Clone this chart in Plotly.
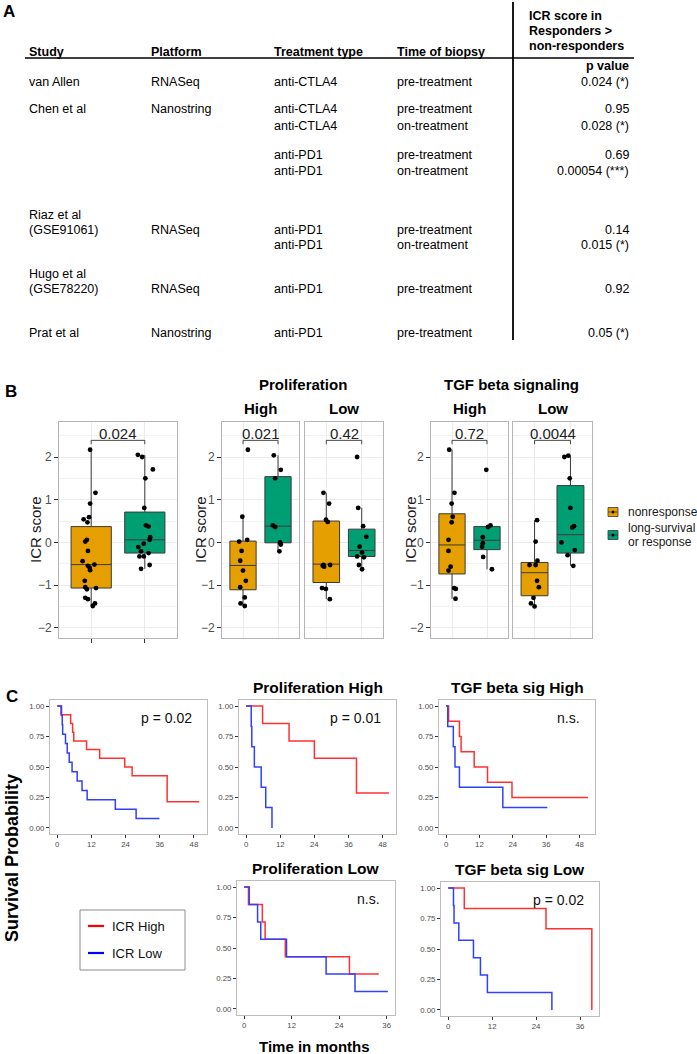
import plotly.graph_objects as go

W, H = 697, 1054
FONT = "Liberation Sans, Arial, Helvetica, sans-serif"

# ---------------- Panel A : table ----------------
table_headers = ["Study", "Platform", "Treatment type", "Time of biopsy"]
right_header = ["ICR score in", "Responders >", "non-responders"]
pvalue_header = "p value"
study_col = ["van Allen", "Chen et al", "", "", "", "Riaz et al", "(GSE91061)", "", "Hugo et al", "(GSE78220)", "Prat et al"]
platform_col = ["RNASeq", "Nanostring", "", "", "", "", "RNASeq", "", "", "RNASeq", "Nanostring"]
treatment_col = ["anti-CTLA4", "anti-CTLA4", "anti-CTLA4", "anti-PD1", "anti-PD1", "", "anti-PD1", "anti-PD1", "", "anti-PD1", "anti-PD1"]
biopsy_col = ["pre-treatment", "pre-treatment", "on-treatment", "pre-treatment", "on-treatment", "", "pre-treatment", "on-treatment", "", "pre-treatment", "pre-treatment"]
pvalue_col = ["0.024 (*)", "0.95", "0.028 (*)", "0.69", "0.00054 (***)", "", "0.14", "0.015 (*)", "", "0.92", "0.05 (*)"]

# ---------------- Panel B : ICR score boxplots ----------------
group_names = ["nonresponse", "long-survival<br>or response"]
group_colors = ["#E69F00", "#009E73"]
compare_p = ["0.024", "0.021", "0.42", "0.72", "0.0044"]
facet_labels = ["", "High", "Low", "High", "Low"]
facet_groups = ["Proliferation", "TGF beta signaling"]

# box stats: [lower whisker, q1, median, q3, upper whisker]
all_non_box = [-1.49, -1.07, -0.52, 0.37, 2.17]
all_non_vals = [2.17, 1.16, 0.91, 0.59, 0.54, 0.47, 0.06, 0.02, -0.2, -0.44, -0.52, -0.55, -0.59, -0.65, -0.9, -1.05, -1.07, -1.1, -1.3, -1.33, -1.43, -1.49]
all_non_jit = [-0.02, 0.08, -0.02, -0.04, -0.14, -0.07, -0.08, -0.11, -0.06, -0.16, 0.06, -0.06, -0.03, -0.02, -0.12, -0.11, 0.09, -0.08, -0.11, -0.06, 0.07, 0.03]
all_res_box = [-0.62, -0.25, 0.06, 0.71, 2.05]
all_res_vals = [2.05, 2.0, 1.71, 1.5, 0.81, 0.4, 0.37, 0.12, 0.06, -0.03, -0.11, -0.21, -0.25, -0.33, -0.33, -0.53, -0.62]
all_res_jit = [-0.13, -0.05, 0.15, 0.01, -0.01, 0.02, 0.07, 0.1, 0.09, -0.02, -0.12, -0.07, 0.07, -0.1, -0.02, 0.09, -0.07]

ph_non_box = [-1.49, -1.11, -0.54, 0.03, 0.6]
ph_non_vals = [2.17, 0.6, 0.02, 0.06, -0.2, -0.43, -0.66, -0.9, -1.05, -1.29, -1.43, -1.49]
ph_non_jit = [0.14, -0.02, -0.11, 0.12, -0.04, -0.08, 0.0, 0.08, -0.08, 0.05, -0.07, 0.05]
ph_res_box = [-0.21, -0.01, 0.38, 1.54, 2.04]
ph_res_vals = [2.04, 1.7, 1.5, 0.4, 0.36, 0.0, -0.05, -0.21]
ph_res_jit = [-0.12, 0.08, -0.08, -0.15, -0.08, 0.06, 0.08, 0.04]

pl_non_box = [-1.33, -0.94, -0.51, 0.5, 1.16]
pl_non_vals = [1.16, 0.91, 0.53, 0.48, -0.53, -0.57, -0.53, -0.55, -1.07, -1.09, -1.33]
pl_non_jit = [-0.08, 0.08, -0.01, 0.04, -0.08, -0.06, 0.11, -0.1, -0.12, -0.01, 0.1]
pl_res_box = [-0.63, -0.33, -0.19, 0.31, 0.81]
pl_res_vals = [2.0, 0.81, 0.38, 0.13, -0.1, -0.24, -0.33, -0.35, -0.53, -0.63]
pl_res_jit = [-0.13, -0.1, 0.04, 0.13, -0.06, 0.01, -0.13, 0.06, -0.08, 0.01]

th_non_box = [-1.32, -0.74, -0.06, 0.67, 2.17]
th_non_vals = [2.17, 1.16, 0.91, 0.6, 0.47, 0.06, -0.2, -0.57, -0.66, -1.07, -1.09, -1.32]
th_non_jit = [-0.08, 0.07, -0.01, 0.02, -0.01, -0.1, -0.1, -0.04, -0.1, 0.06, 0.11, 0.1]
th_res_box = [-0.63, -0.17, 0.05, 0.37, 0.4]
th_res_vals = [1.7, 0.4, 0.36, 0.12, -0.02, -0.1, -0.34, -0.63]
th_res_jit = [-0.02, 0.1, 0.03, -0.12, -0.12, -0.14, -0.11, 0.14]

tl_non_box = [-1.5, -1.25, -0.71, -0.47, 0.52]
tl_non_vals = [0.52, 0.02, -0.43, -0.53, -0.53, -0.9, -1.05, -1.3, -1.43, -1.5]
tl_non_jit = [0.07, 0.03, 0.08, -0.14, 0.03, 0.07, 0.12, -0.03, -0.1, 0.0]
tl_res_box = [-0.55, -0.25, 0.18, 1.33, 2.03]
tl_res_vals = [2.03, 2.0, 1.5, 0.81, 0.38, 0.35, 0.0, -0.18, -0.3, -0.55]
tl_res_jit = [-0.06, -0.17, -0.02, 0.0, 0.1, 0.05, -0.25, 0.12, -0.08, 0.08]

# ---------------- Panel C : Kaplan-Meier ----------------
km_titles = ["", "Proliferation High", "TGF beta sig High", "Proliferation Low", "TGF beta sig Low"]
km_pvals = ["p = 0.02", "p = 0.01", "n.s.", "n.s.", "p = 0.02"]
km_legend = ["ICR High", "ICR Low"]
km_colors = ["#FF3030", "#3040FF"]
km_legend_colors = ["#FF0000", "#0000FF"]

all_high_t = [0, 1.3, 4.7, 5.4, 5.8, 10.3, 14.9, 23.7, 26.3, 38.6, 49.9]
all_high_s = [1, 0.929, 0.857, 0.786, 0.714, 0.643, 0.571, 0.5, 0.429, 0.214, 0.214]
all_low_t = [0, 1.5, 1.75, 1.9, 2.9, 3.5, 4.2, 5.2, 7.0, 8.7, 10.5, 20.4, 27.7, 35.9]
all_low_s = [1, 0.923, 0.846, 0.769, 0.692, 0.615, 0.538, 0.462, 0.385, 0.308, 0.231, 0.154, 0.077, 0.077]

ph_high_t = [0, 5.8, 15.1, 24.0, 38.8, 50.2]
ph_high_s = [1, 0.857, 0.714, 0.571, 0.286, 0.286]
ph_low_t = [0, 1.8, 2.0, 2.9, 5.3, 6.9, 9.1]
ph_low_s = [1, 0.833, 0.667, 0.5, 0.333, 0.167, 0.0]

th_high_t = [0, 0.9, 4.8, 5.4, 10.1, 14.9, 23.7, 51.0]
th_high_s = [1, 0.875, 0.75, 0.625, 0.5, 0.375, 0.25, 0.25]
th_low_t = [0, 0.6, 2.6, 3.2, 4.8, 20.4, 36.4]
th_low_s = [1, 0.833, 0.667, 0.5, 0.333, 0.167, 0.167]

pl_high_t = [0, 1.1, 4.6, 5.3, 10.4, 26.6, 34.0]
pl_high_s = [1, 0.857, 0.714, 0.571, 0.429, 0.286, 0.286]
pl_low_t = [0, 1.3, 3.4, 4.2, 10.7, 20.7, 28.0, 36.3]
pl_low_s = [1, 0.857, 0.714, 0.571, 0.429, 0.286, 0.143, 0.143]

tl_high_t = [0, 4.4, 26.7, 39.2]
tl_high_s = [1, 0.833, 0.667, 0.0]
tl_low_t = [0, 1.45, 1.6, 2.9, 6.9, 8.8, 10.7, 28.3]
tl_low_s = [1, 0.857, 0.714, 0.571, 0.429, 0.286, 0.143, 0.0]

# ================= figure =================
def px(x):
    return x / W

def py(y):
    return 1 - y / H

fig = go.Figure()
annotations = []
shapes = []

def text(x, y, s, size=12.5, bold=False, anchor="left", color="#000000", angle=0):
    if bold:
        s = "<b>" + s + "</b>"
    annotations.append(dict(
        x=px(x), y=py(y), xref="paper", yref="paper", text=s, showarrow=False, xanchor=anchor,
        yanchor="middle", textangle=angle, font=dict(family=FONT, size=size, color=color)))

def line(x0, y0, x1, y1, color="#000000", width=1.5):
    shapes.append(dict(type="line", xref="paper", yref="paper", x0=px(x0), y0=py(y0), x1=px(x1), y1=py(y1),
                       line=dict(color=color, width=width)))

# ---- Panel A ----
text(1, 11, "A", size=17, bold=True)
col_x = [27, 149, 272, 395]
header_y = 52
for cx, h in zip(col_x, table_headers):
    text(cx, header_y, h, bold=True)
for i, h in enumerate(right_header):
    text(527, 16 + i * 15, h, bold=True)
text(631, 66, pvalue_header, bold=True, anchor="right")
line(25, 58, 634, 58, width=1.5)
line(513, 2, 513, 340, width=1.8)
line_y = [82, 109, 126, 155, 171, 215, 230, 245, 274, 289, 333]
for i, ly in enumerate(line_y):
    for cx, col in zip(col_x, [study_col, platform_col, treatment_col, biopsy_col]):
        if col[i]:
            text(cx, ly, col[i])
    if pvalue_col[i]:
        text(631, ly, pvalue_col[i], anchor="right")

# ---- Panel B ----
text(3, 391, "B", size=17, bold=True)
box_top, box_bot = 422, 638
box_yrange = [-2.24, 2.82]
box_panels = [(59, 177), (222, 299), (305, 383), (431, 508), (513, 592)]
box_data = [
    [(all_non_box, all_non_vals, all_non_jit), (all_res_box, all_res_vals, all_res_jit)],
    [(ph_non_box, ph_non_vals, ph_non_jit), (ph_res_box, ph_res_vals, ph_res_jit)],
    [(pl_non_box, pl_non_vals, pl_non_jit), (pl_res_box, pl_res_vals, pl_res_jit)],
    [(th_non_box, th_non_vals, th_non_jit), (th_res_box, th_res_vals, th_res_jit)],
    [(tl_non_box, tl_non_vals, tl_non_jit), (tl_res_box, tl_res_vals, tl_res_jit)],
]
ylabel_x = [35, 200, None, 410, None]
bracket_y = 2.39
layout_axes = {}

for p, ((l, r), groups) in enumerate(zip(box_panels, box_data)):
    n = p + 1
    xa, ya = ("x", "y") if n == 1 else (f"x{n}", f"y{n}")
    xk, yk = ("xaxis", "yaxis") if n == 1 else (f"xaxis{n}", f"yaxis{n}")
    show_lab = ylabel_x[p] is not None
    layout_axes[xk] = dict(domain=[px(l), px(r)], anchor=ya, range=[0.4, 2.6], tickvals=[1, 2],
                           showticklabels=False, ticks="outside" if n == 1 else "", ticklen=4,
                           tickcolor="#333333", showgrid=True, gridcolor="#EBEBEB", gridwidth=1,
                           zeroline=False, showline=True, mirror=True, linecolor="#B5B5B5", linewidth=1)
    layout_axes[yk] = dict(domain=[py(box_bot), py(box_top)], anchor=xa, range=box_yrange,
                           tickvals=[-2, -1, 0, 1, 2], showticklabels=show_lab,
                           ticks="outside" if show_lab else "", ticklen=4, tickcolor="#333333",
                           tickfont=dict(family=FONT, size=12, color="#4D4D4D"),
                           showgrid=True, gridcolor="#EBEBEB", gridwidth=1, zeroline=False,
                           minor=dict(tickvals=[-1.5, -0.5, 0.5, 1.5, 2.5], showgrid=True,
                                      gridcolor="#F2F2F2", gridwidth=0.6),
                           showline=True, mirror=True, linecolor="#B5B5B5", linewidth=1)
    for g, (st, vals, jit) in enumerate(groups):
        pos = g + 1
        fig.add_trace(go.Box(x=[pos], lowerfence=[st[0]], q1=[st[1]], median=[st[2]], q3=[st[3]],
                             upperfence=[st[4]], width=0.75, fillcolor=group_colors[g],
                             line=dict(color="#3A3A3A", width=1), whiskerwidth=0, boxpoints=False,
                             showlegend=False, hoverinfo="skip", xaxis=xa, yaxis=ya))
    for g, (st, vals, jit) in enumerate(groups):
        pos = g + 1
        fig.add_trace(go.Scatter(x=[pos + j for j in jit], y=vals, mode="markers",
                                 marker=dict(color="black", size=4.8), showlegend=False,
                                 hoverinfo="skip", xaxis=xa, yaxis=ya))
    fig.add_trace(go.Scatter(x=[1, 1, 2, 2], y=[bracket_y - 0.09, bracket_y, bracket_y, bracket_y - 0.09],
                             mode="lines", line=dict(color="#333333", width=0.9), showlegend=False,
                             hoverinfo="skip", xaxis=xa, yaxis=ya))
    annotations.append(dict(x=1.5, y=bracket_y + 0.16, xref=xa, yref=ya, text=compare_p[p],
                            showarrow=False, xanchor="center", yanchor="middle",
                            font=dict(family=FONT, size=15, color="#222222")))
    if facet_labels[p]:
        text((l + r) / 2, 408, facet_labels[p], size=15, bold=True, anchor="center")
    if show_lab:
        text(ylabel_x[p], 530, "ICR score", size=15, anchor="center", angle=-90, color="#1A1A1A")

text((box_panels[1][0] + box_panels[2][1]) / 2, 385, facet_groups[0], size=15, bold=True, anchor="center")
text((box_panels[3][0] + box_panels[4][1]) / 2, 385, facet_groups[1], size=15, bold=True, anchor="center")

# legend for panel B
leg_rows = [(512, [512]), (535, [528, 542])]
for g, (ky, ty) in enumerate(leg_rows):
    shapes.append(dict(type="rect", xref="paper", yref="paper", x0=px(608), x1=px(618),
                       y0=py(ky + 4.5), y1=py(ky - 4.5), fillcolor=group_colors[g],
                       line=dict(color="#3A3A3A", width=0.8)))
    line(608, ky, 618, ky, color="#3A3A3A", width=0.8)
    shapes.append(dict(type="circle", xref="paper", yref="paper", x0=px(611.5), x1=px(614.5),
                       y0=py(ky + 1.5), y1=py(ky - 1.5), fillcolor="black", line=dict(width=0)))
    for t, yy in zip(group_names[g].split("<br>"), ty):
        text(626, yy, t, size=12, color="#1A1A1A")

# ---- Panel C ----
text(4, 696, "C", size=17, bold=True)
km_panels = [
    (50, 207, 700, 834, [-2.55, 52.6], [0, 12, 24, 36, 48]),
    (239, 396, 700, 834, [-2.5, 52.7], [0, 12, 24, 36, 48]),
    (439, 595, 700, 834, [-2.55, 53.55], [0, 12, 24, 36, 48]),
    (237, 395, 881, 1015, [-1.8, 38.1], [0, 12, 24, 36]),
    (441, 599, 882, 1016, [-1.96, 41.16], [0, 12, 24, 36]),
]
km_curves = [
    [(all_high_t, all_high_s), (all_low_t, all_low_s)],
    [(ph_high_t, ph_high_s), (ph_low_t, ph_low_s)],
    [(th_high_t, th_high_s), (th_low_t, th_low_s)],
    [(pl_high_t, pl_high_s), (pl_low_t, pl_low_s)],
    [(tl_high_t, tl_high_s), (tl_low_t, tl_low_s)],
]
for k, ((l, r, t, b, xr, xt), curves) in enumerate(zip(km_panels, km_curves)):
    n = k + 6
    xa, ya = f"x{n}", f"y{n}"
    layout_axes[f"xaxis{n}"] = dict(domain=[px(l), px(r)], anchor=ya, range=xr, tickvals=xt,
                                    ticks="outside", ticklen=3, tickcolor="#333333",
                                    tickfont=dict(family=FONT, size=7.8, color="#4D4D4D"),
                                    showgrid=False, zeroline=False, showline=True, mirror=True,
                                    linecolor="#BDBDBD", linewidth=1)
    layout_axes[f"yaxis{n}"] = dict(domain=[py(b), py(t)], anchor=xa, range=[-0.05, 1.05],
                                    tickvals=[0, 0.25, 0.5, 0.75, 1.0], tickformat=".2f",
                                    ticks="outside", ticklen=3, tickcolor="#333333",
                                    tickfont=dict(family=FONT, size=7.8, color="#4D4D4D"),
                                    showgrid=False, zeroline=False, showline=True, mirror=True,
                                    linecolor="#BDBDBD", linewidth=1)
    for c, (tt, ss) in enumerate(curves):
        fig.add_trace(go.Scatter(x=tt, y=ss, mode="lines", line=dict(color=km_colors[c], width=1.5, shape="hv"),
                                 showlegend=False, hoverinfo="skip", xaxis=xa, yaxis=ya))
    text(r - 13, t + 18, km_pvals[k], size=14, anchor="right", color="#111111")
    if km_titles[k]:
        text((l + r) / 2, t - 13, km_titles[k], size=15.5, bold=True, anchor="center")

text(12, 858, "Survival Probability", size=18, bold=True, anchor="center", angle=-90)
text(314, 1046, "Time in months", size=15, bold=True, anchor="center")

# legend for panel C
shapes.append(dict(type="rect", xref="paper", yref="paper", x0=px(80), x1=px(185), y0=py(970), y1=py(910),
                   fillcolor="white", line=dict(color="#8C8C8C", width=1)))
for c, yy in enumerate([926, 953]):
    line(88, yy, 104, yy, color=km_legend_colors[c], width=2.2)
    text(110, yy, km_legend[c], size=13, color="#111111")

fig.update_layout(width=W, height=H, autosize=False, margin=dict(l=0, r=0, t=0, b=0),
                  paper_bgcolor="white", plot_bgcolor="white", showlegend=False,
                  annotations=annotations, shapes=shapes, boxmode="overlay", **layout_axes)

fig.write_html("out.html", config={"displayModeBar": False},
               post_script="document.body.style.margin='0px';")
